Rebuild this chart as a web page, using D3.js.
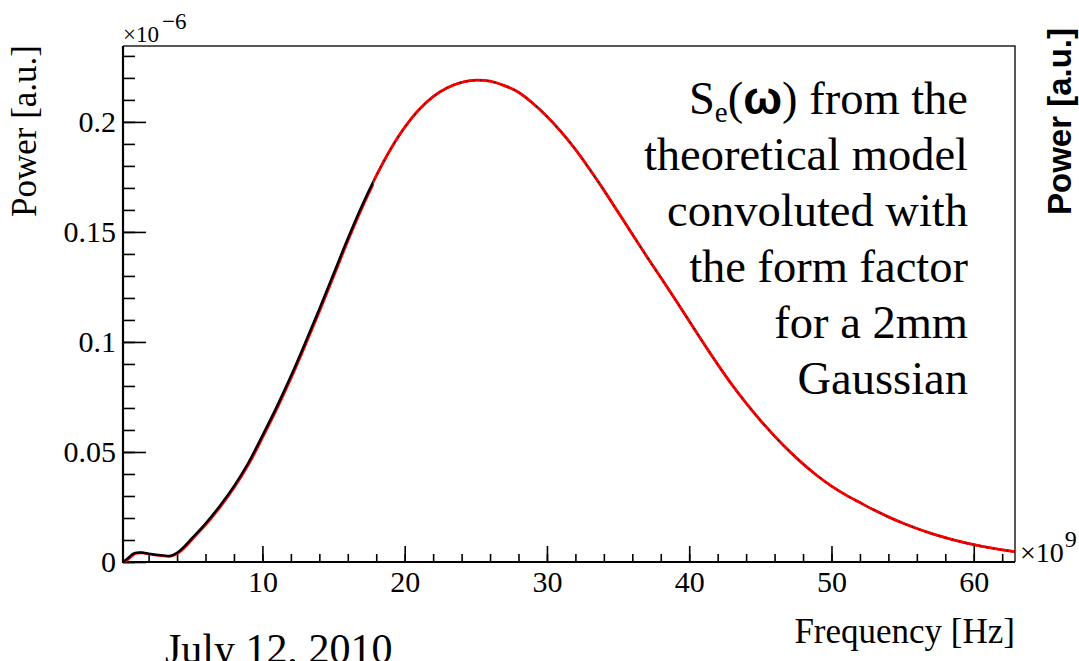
<!DOCTYPE html>
<html lang="en">
<head>
<meta charset="utf-8">
<title>Power spectrum</title>
<script src="https://d3js.org/d3.v7.min.js"></script>
<style>
  body { margin: 0; background: #fff; }
  svg { display: block; }
  .axis path { display: none; }
  .axis line { stroke: #000; stroke-width: 1.6px; }
  .axis text { font-size: 30px; font-family: "Liberation Serif", serif; fill: #000; }
</style>
</head>
<body>
<div id="main"></div>
<script>
  // frequency in units of 1e9 Hz, power in units of 1e-6 a.u.
  const freq = [0.2, 0.5, 1.0, 1.5, 2.0, 2.5, 3.0, 3.5, 4.0, 4.5, 5, 6, 7, 8, 9, 10,
    11, 12, 13, 14, 15, 16, 17, 18, 19, 20, 21, 22, 23, 24, 25, 26, 27, 28, 29, 30,
    31, 32, 33, 34, 35, 36, 37, 38, 39, 40, 41, 42, 43, 44, 45, 46, 47, 48, 49, 50,
    51, 52, 53, 54, 55, 56, 57, 58, 59, 60, 61, 62, 62.9];
  const power = [0, 0.0015, 0.0040, 0.0043, 0.0038, 0.0033, 0.0030, 0.0028, 0.0042, 0.0070, 0.0105, 0.0175, 0.0255, 0.0345, 0.0450, 0.0575,
    0.0705, 0.0845, 0.0995, 0.115, 0.131, 0.147, 0.162, 0.1755, 0.1875, 0.1975, 0.2055, 0.2115, 0.2155, 0.218, 0.219, 0.2185, 0.2165, 0.2135, 0.2085, 0.2025,
    0.1955, 0.1875, 0.1785, 0.169, 0.159, 0.149, 0.139, 0.1293, 0.1195, 0.1095, 0.0995, 0.0898, 0.0806, 0.0722, 0.0644, 0.0572, 0.0506, 0.0446, 0.0392, 0.0345,
    0.0305, 0.0270, 0.0236, 0.0205, 0.0177, 0.0152, 0.0130, 0.0111, 0.0094, 0.0079, 0.0066, 0.0055, 0.0047];

  const yMajor = [0, 0.05, 0.1, 0.15, 0.2];
  const yMinor = d3.range(0, 0.2345, 0.01);
  const xMajor = [10, 20, 30, 40, 50, 60];
  const xMinor = d3.range(2, 63, 2);
  const noteLines = ["theoretical model", "convoluted with", "the form factor", "for a 2mm", "Gaussian"];

  const width = 1079, height = 661;
  const padL = 123, padR = 1015, padT = 46, padB = 562;
  const serif = '"Liberation Serif", "Times New Roman", serif';
  const sans = '"Liberation Sans", Arial, sans-serif';

  const svg = d3.select('#main').append('svg')
      .attr('width', width)
      .attr('height', height);

  const x = d3.scaleLinear().domain([0.2, 62.9]).range([padL, padR]);
  const y = d3.scaleLinear().domain([0, 0.2345]).range([padB, padT]);

  // frame top / right
  svg.append('path')
      .attr('d', `M${padL},${padT}H${padR}V${padB}`)
      .attr('fill', 'none')
      .attr('stroke', '#222')
      .attr('stroke-width', 1.5);

  // y axis: minor then major ticks, pointing inside
  svg.append('g').attr('class', 'axis')
      .attr('transform', `translate(${padL},0)`)
      .call(d3.axisLeft(y).tickValues(yMinor).tickSize(-12).tickFormat(''));
  svg.append('g').attr('class', 'axis')
      .attr('transform', `translate(${padL},0)`)
      .call(d3.axisLeft(y).tickValues(yMajor).tickSize(-23).tickPadding(7)
        .tickFormat(d => d === 0 ? '0' : d3.format('~g')(+d.toFixed(2))));

  // x axis
  svg.append('g').attr('class', 'axis')
      .attr('transform', `translate(0,${padB})`)
      .call(d3.axisBottom(x).tickValues(xMinor).tickSize(-8).tickFormat(''));
  svg.append('g').attr('class', 'axis')
      .attr('transform', `translate(0,${padB})`)
      .call(d3.axisBottom(x).tickValues(xMajor).tickSize(-16).tickPadding(9));

  // axis lines
  svg.append('path')
      .attr('d', `M${padL},${padT}V${padB}H${padR}`)
      .attr('fill', 'none')
      .attr('stroke', '#000')
      .attr('stroke-width', 2.2);

  // curves
  const pts = freq.map((f, i) => [f, power[i]]);
  const line = d3.line()
      .x(d => x(d[0]))
      .y(d => y(d[1]))
      .curve(d3.curveCatmullRom);

  const split = 250;
  svg.append('clipPath').attr('id', 'rise')
    .append('rect').attr('x', padL).attr('y', padT).attr('width', split).attr('height', padB - padT);
  svg.append('clipPath').attr('id', 'fall')
    .append('rect').attr('x', padL + split).attr('y', padT).attr('width', padR - padL - split).attr('height', padB - padT);

  // rising part: black over red
  svg.append('path').datum(pts)
      .attr('d', line)
      .attr('clip-path', 'url(#rise)')
      .attr('transform', 'translate(1,0.5)')
      .attr('fill', 'none').attr('stroke', '#ff0000').attr('stroke-width', 2.5);
  svg.append('path').datum(pts)
      .attr('d', line)
      .attr('clip-path', 'url(#rise)')
      .attr('fill', 'none').attr('stroke', '#000').attr('stroke-width', 2.4);

  // falling part: red over black
  svg.append('path').datum(pts)
      .attr('d', line)
      .attr('clip-path', 'url(#fall)')
      .attr('fill', 'none').attr('stroke', '#000').attr('stroke-width', 2.2);
  svg.append('path').datum(pts)
      .attr('d', line)
      .attr('clip-path', 'url(#fall)')
      .attr('fill', 'none').attr('stroke', '#ff0000').attr('stroke-width', 2.8);
  svg.append('path').datum(pts)
      .attr('d', line)
      .attr('clip-path', 'url(#fall)')
      .attr('fill', 'none').attr('stroke', '#000').attr('stroke-width', 1.2)
      .attr('stroke-dasharray', '1 6');

  // exponents
  const e6 = svg.append('text').attr('x', padL).attr('y', 42)
      .style('font-family', serif).style('font-size', '23px');
  e6.append('tspan').text('\u00d710');
  e6.append('tspan').attr('dx', 3).attr('dy', -13).style('font-size', '23px').text('\u22126');

  const e9 = svg.append('text').attr('x', 1020).attr('y', 562)
      .style('font-family', serif).style('font-size', '28px');
  e9.append('tspan').text('\u00d710');
  e9.append('tspan').attr('dx', 1).attr('dy', -15).style('font-size', '24px').text('9');

  // axis titles
  svg.append('text')
      .attr('transform', `translate(36,${padT - 1}) rotate(-90)`)
      .attr('text-anchor', 'end')
      .style('font-family', serif)
      .style('font-size', '35px')
      .text('Power [a.u.]');

  svg.append('text')
      .attr('x', padR).attr('y', 643)
      .attr('text-anchor', 'end')
      .style('font-family', serif)
      .style('font-size', '35px')
      .text('Frequency [Hz]');

  svg.append('text')
      .attr('transform', 'translate(1071,28) rotate(-90)')
      .attr('text-anchor', 'end')
      .style('font-family', sans)
      .style('font-weight', 'bold')
      .style('font-size', '33px')
      .text('Power [a.u.]');

  // annotation
  const noteX = 968, noteY = 114, noteStep = 56, noteSize = '46.5px';
  const first = svg.append('text')
      .attr('x', noteX).attr('y', noteY)
      .attr('text-anchor', 'end')
      .style('font-family', serif)
      .style('font-size', noteSize);
  first.append('tspan').text('S');
  first.append('tspan').attr('dy', 8).style('font-size', '29px').text('e');
  first.append('tspan').attr('dy', -8).text('(');
  first.append('tspan')
      .style('font-family', sans)
      .style('font-weight', 'bold')
      .style('font-size', '46px')
      .text('\u03c9');
  first.append('tspan').text(') from the');

  noteLines.forEach((t, i) => {
    svg.append('text')
        .attr('x', noteX).attr('y', noteY + noteStep * (i + 1))
        .attr('text-anchor', 'end')
        .style('font-family', serif)
        .style('font-size', noteSize)
        .text(t);
  });

  svg.append('text')
      .attr('x', 165).attr('y', 663)
      .style('font-family', serif)
      .style('font-size', '42px')
      .text('July 12, 2010');
</script>
</body>
</html>
